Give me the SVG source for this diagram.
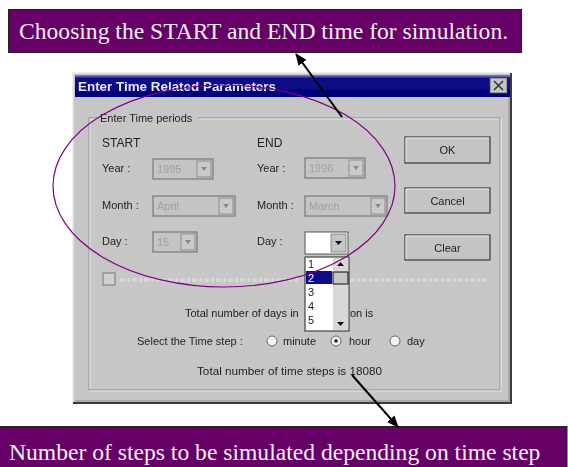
<svg xmlns="http://www.w3.org/2000/svg" width="568" height="467" viewBox="0 0 568 467">
  <style>
    .note { fill: #660066; stroke: #222; stroke-width: 1; }
    .note-text { font-family: "Liberation Sans", Arial, sans-serif; font-size: 23.6px; fill: #f4f0f4; }
    .note-text { font-family: "Liberation Serif", "Times New Roman", serif; }
    .ui { font-family: "Liberation Sans", Arial, sans-serif; font-size: 11px; fill: #222; }
    .ui-dis { font-family: "Liberation Sans", Arial, sans-serif; font-size: 11px; fill: #a0a0a0; }
    .field { fill: #c4c4c4; stroke: #6a6a6a; stroke-width: 1; }
    .btn { fill: #c4c4c4; stroke: #3a3a3a; stroke-width: 1.2; }
    .arrowbtn { fill: #cacaca; stroke: #808080; stroke-width: 0.8; }
    .conn { stroke: #000; stroke-width: 2; fill: none; marker-end: url(#head); }
  </style>
  <defs>
    <marker id="head" viewBox="0 0 12 10" refX="11" refY="5" markerWidth="12" markerHeight="10" markerUnits="userSpaceOnUse" orient="auto">
      <path d="M0,0 L12,5 L0,10 Z" fill="#000"/>
    </marker>
    <filter id="soft" x="-2%" y="-2%" width="104%" height="104%">
      <feGaussianBlur stdDeviation="0.7"/>
    </filter>
    <linearGradient id="titlebar" x1="0" y1="0" x2="0" y2="1">
      <stop offset="0" stop-color="#8a8ad8"/>
      <stop offset="0.15" stop-color="#10108a"/>
      <stop offset="1" stop-color="#000078"/>
    </linearGradient>
  </defs>

  <rect width="568" height="467" fill="#ffffff"/>

  <!-- dialog window screenshot -->
  <g id="dialog" filter="url(#soft)">
    <rect x="73" y="73" width="439" height="331" fill="#c6c6c6"/>
    <path d="M73,404 V73 H512" fill="none" stroke="#e8e8e8" stroke-width="1.5"/>
    <path d="M73,403 H511 V73" fill="none" stroke="#3a3a3a" stroke-width="2"/>
    <path d="M75,401 H509 V76" fill="none" stroke="#8a8a8a" stroke-width="1"/>
    <rect x="75" y="75" width="435" height="22" fill="url(#titlebar)"/>
    <text x="78" y="91" font-family="Liberation Sans, Arial, sans-serif" font-size="12" font-weight="bold" fill="#e8e8ff" textLength="198" lengthAdjust="spacingAndGlyphs">Enter Time Related Parameters</text>
    <rect x="490" y="78" width="17" height="15" fill="#c6c6c6" stroke="#505050" stroke-width="0.8"/>
    <path d="M494,81 L503,90 M503,81 L494,90" stroke="#333" stroke-width="1.5"/>

    <!-- group box (etched frame) -->
    <path d="M98,118 H89 V390 H500 V118 H198" fill="none" stroke="#8c8c8c" stroke-width="1"/>
    <path d="M98,119 H90 V389 M199,119 H499 M89,391 H501 V118" fill="none" stroke="#e6e6e6" stroke-width="1"/>
    <text class="ui" x="100" y="122">Enter Time periods</text>

    <!-- START column -->
    <text class="ui" x="102" y="147" style="font-size:12px">START</text>
    <text class="ui" x="102" y="172">Year :</text>
    <rect class="field" x="153" y="159" width="60" height="20"/>
    <text class="ui-dis" x="157" y="173">1995</text>
    <rect class="arrowbtn" x="197" y="161" width="14" height="16"/>
    <path d="M201,167 L204,171 L207,167 Z" fill="#888"/>
    <text class="ui" x="102" y="209">Month :</text>
    <rect class="field" x="153" y="196" width="82" height="20"/>
    <text class="ui-dis" x="157" y="210">April</text>
    <rect class="arrowbtn" x="219" y="198" width="14" height="16"/>
    <path d="M223,204 L226,208 L229,204 Z" fill="#888"/>
    <text class="ui" x="102" y="245">Day :</text>
    <rect class="field" x="153" y="232" width="44" height="20"/>
    <text class="ui-dis" x="157" y="246">15</text>
    <rect class="arrowbtn" x="181" y="234" width="14" height="16"/>
    <path d="M185,240 L188,244 L191,240 Z" fill="#888"/>

    <!-- END column -->
    <text class="ui" x="257" y="147" style="font-size:12px">END</text>
    <text class="ui" x="257" y="172">Year :</text>
    <rect class="field" x="305" y="158" width="60" height="20"/>
    <text class="ui-dis" x="309" y="172">1996</text>
    <rect class="arrowbtn" x="349" y="160" width="14" height="16"/>
    <path d="M353,166 L356,170 L359,166 Z" fill="#888"/>
    <text class="ui" x="257" y="209">Month :</text>
    <rect class="field" x="305" y="196" width="82" height="20"/>
    <text class="ui-dis" x="309" y="210">March</text>
    <rect class="arrowbtn" x="371" y="198" width="14" height="16"/>
    <path d="M375,204 L378,208 L381,204 Z" fill="#888"/>
    <text class="ui" x="257" y="245">Day :</text>
    <rect x="305" y="232" width="43" height="22" fill="#ffffff" stroke="#555" stroke-width="1"/>
    <rect x="331" y="234" width="15" height="18" fill="#c6c6c6" stroke="#777" stroke-width="0.8"/>
    <path d="M335,241 L338.5,245 L342,241 Z" fill="#111"/>

    <!-- open day list -->
    <rect x="305" y="257" width="44" height="74" fill="#ffffff" stroke="#222" stroke-width="1"/>
    <rect x="333" y="258" width="15" height="72" fill="#d8d8d8"/>
    <path d="M337,266 L340.5,262 L344,266 Z" fill="#111"/>
    <rect x="333" y="272" width="15" height="12" fill="#c6c6c6" stroke="#111" stroke-width="1"/>
    <path d="M337,322 L340.5,326 L344,322 Z" fill="#111"/>
    <rect x="306" y="271" width="26" height="13" fill="#10108a"/>
    <text class="ui" x="308" y="268">1</text>
    <text class="ui" x="308" y="282" style="fill:#ffffff">2</text>
    <text class="ui" x="308" y="296">3</text>
    <text class="ui" x="308" y="310">4</text>
    <text class="ui" x="308" y="324">5</text>

    <!-- buttons -->
    <rect class="btn" x="405" y="137" width="85" height="26"/>
    <path d="M406,162 V138 H489" fill="none" stroke="#f0f0f0" stroke-width="1"/>
    <text class="ui" x="447.5" y="154" text-anchor="middle">OK</text>
    <rect class="btn" x="405" y="188" width="85" height="25"/>
    <path d="M406,212 V189 H489" fill="none" stroke="#f0f0f0" stroke-width="1"/>
    <text class="ui" x="447.5" y="205" text-anchor="middle">Cancel</text>
    <rect class="btn" x="405" y="235" width="85" height="25"/>
    <path d="M406,259 V236 H489" fill="none" stroke="#f0f0f0" stroke-width="1"/>
    <text class="ui" x="447.5" y="252" text-anchor="middle">Clear</text>

    <!-- disabled check option -->
    <rect x="103" y="273" width="12" height="12" fill="#d0d0d0" stroke="#777" stroke-width="1"/>
    <path d="M120,280 H300 M350,280 H488" stroke="#d6d6d6" stroke-width="4" stroke-dasharray="5 2 3 2"/>

    <!-- totals and time step -->
    <text class="ui" x="185" y="317">Total number of days in</text>
    <text class="ui" x="350" y="317">on is</text>
    <text class="ui" x="137" y="345">Select the Time step :</text>
    <circle cx="272" cy="341" r="5" fill="#f4f4f4" stroke="#666" stroke-width="1"/>
    <text class="ui" x="283" y="345">minute</text>
    <circle cx="336" cy="341" r="5" fill="#f4f4f4" stroke="#666" stroke-width="1"/>
    <circle cx="336" cy="341" r="1.8" fill="#222"/>
    <text class="ui" x="349" y="345">hour</text>
    <circle cx="395" cy="341" r="5" fill="#f4f4f4" stroke="#666" stroke-width="1"/>
    <text class="ui" x="407" y="345">day</text>
    <text class="ui" x="197" y="375" textLength="185" lengthAdjust="spacingAndGlyphs">Total number of time steps is 18080</text>
  </g>

  <!-- highlight around the date fields -->
  <g id="date-highlight">
    <ellipse cx="224" cy="186" rx="171" ry="101" fill="none" stroke="#800080" stroke-width="1.2"/>
  </g>

  <!-- callout notes -->
  <g id="note-top">
    <rect class="note" x="8.5" y="9.5" width="513" height="43"/>
    <text class="note-text" x="19" y="39">Choosing the START and END time for simulation.</text>
  </g>
  <g id="note-bottom">
    <rect class="note" x="-1" y="426.5" width="568" height="42" stroke="#888"/>
    <text class="note-text" x="9" y="460">Number of steps to be simulated depending on time step</text>
  </g>

  <!-- connectors -->
  <g id="connectors">
    <line class="conn" x1="342" y1="117" x2="296" y2="54"/>
    <line class="conn" x1="352" y1="375" x2="398" y2="427"/>
  </g>
</svg>
